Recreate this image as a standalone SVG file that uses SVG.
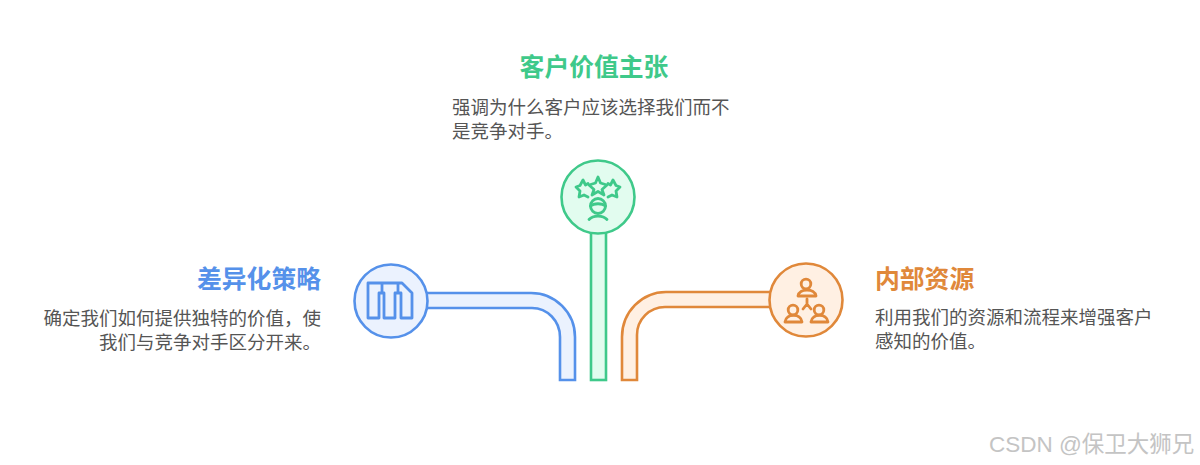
<svg xmlns="http://www.w3.org/2000/svg" width="1200" height="465" viewBox="0 0 1200 465">
<style>
text{font-family:"Liberation Sans","Noto Sans CJK SC",sans-serif}
.t{font-size:24.8px;font-weight:700}
.b{font-size:18.5px;fill:#555}
.blue{fill:#ebf2fe;stroke:#5591ea;stroke-width:2.6}
.green{fill:#e2fcef;stroke:#3fc98a;stroke-width:2.6}
.orange{fill:#fff0e3;stroke:#e0883a;stroke-width:2.6}
.i{fill:none;stroke-width:2.8;stroke-linejoin:round;stroke-linecap:round}
</style>
<rect width="1200" height="465" fill="#fff"/>
<g id="connectors">
<path class="blue" d="M425 293H531A44 44 0 0 1 575 337V380H560V337A28 29 0 0 0 532 308H425Z"/>
<rect class="green" x="591" y="230" width="15" height="150"/>
<path class="orange" d="M772 292H666A44 45 0 0 0 622 337V380H637V335A28 28 0 0 1 665 307H772Z"/>
</g>
<g id="node-differentiation">
<circle class="blue" cx="391" cy="301" r="36.500"/>
<path class="i" stroke="#5591ea" d="M368 283H402L412 293V318H401V293H398V283M368 283V318H379V293H382V283M384 293H382M384 293V318H395V293H398"/>
<text class="t" x="321" y="288" text-anchor="end" fill="#5591ea">差异化策略</text>
<text class="b" x="321" y="325" text-anchor="end">确定我们如何提供独特的价值，使</text>
<text class="b" x="321" y="349" text-anchor="end">我们与竞争对手区分开来。</text>
</g>
<g id="node-value">
<circle class="green" cx="598" cy="197" r="36.500"/>
<g class="i" stroke="#3fc98a">
<path d="M598 177L600.500 183L607 185L602 189.500L604 195L598 191.500L592 195L594 189.500L589 185L595.500 183Z"/>
<path d="M588 183.500L585.500 185L583 180L580 185.500L576 187L580 191L579 197L584 195L588 197"/>
<path d="M608 183.500L610.500 185L613 180L616 185.500L620 187L616 191L617 197L612 195L608 197"/>
<circle cx="598" cy="206" r="7.500"/><path d="M590.500 206C594 203 602 203 605.500 206M589 219.500C593 215 603 215 607 219.500"/></g>
<text class="t" x="594" y="76" text-anchor="middle" fill="#3fc98a">客户价值主张</text>
<text class="b" x="452" y="114">强调为什么客户应该选择我们而不</text>
<text class="b" x="452" y="138">是竞争对手。</text>
</g>
<g id="node-resources">
<circle class="orange" cx="806" cy="300" r="36.500"/>
<g class="i" stroke="#e0883a">
<circle cx="806" cy="284" r="4.800"/><path d="M798 296C799 288 815 288 816 296Z"/>
<circle cx="793" cy="310" r="4.800"/><path d="M785 322C786 313 801 313 802 322Z"/>
<circle cx="819" cy="310" r="4.800"/><path d="M811 322C812 313 827 313 828 322Z"/>
<path d="M807 299V304M807 304L803 309M807 304L811 309"/></g>
<text class="t" x="875" y="288" fill="#e0883a">内部资源</text>
<text class="b" x="875" y="324">利用我们的资源和流程来增强客户</text>
<text class="b" x="875" y="348">感知的价值。</text>
</g>
<text x="989" y="452" font-size="22.500" fill="#c4c4c4">CSDN @保卫大狮兄</text>
</svg>
